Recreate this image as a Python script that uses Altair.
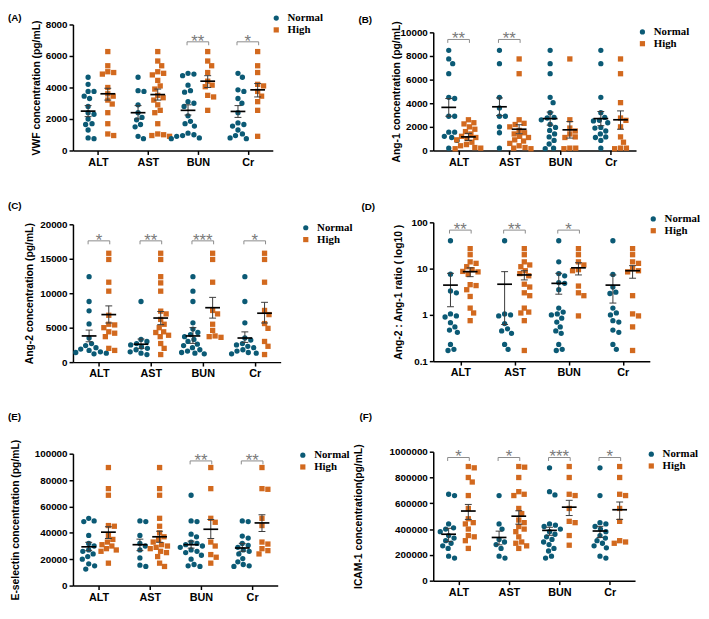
import numpy as np
import pandas as pd
import altair as alt

CATS = ["ALT", "AST", "BUN", "Cr"]
GROUPS = ["Normal", "High"]
TEAL = "#0b5a75"
ORANGE = "#d2691e"
SANS = "Liberation Sans"
SERIF = "Liberation Serif"

# ---------------- Panel A : VWF ----------------
A_NORMAL = [
    [4650, 4200, 3750, 3750, 3450, 3300, 2800, 2400, 2300, 2000, 1700, 1650, 1300, 800, 750],
    [4650, 3800, 3750, 2900, 2400, 2100, 1950, 1650, 1500, 900, 750],
    [4900, 4850, 4750, 4150, 3800, 3700, 3100, 3000, 2800, 2200, 1850, 1700, 1550, 1100, 1000, 950, 900, 800, 750],
    [4900, 4650, 3850, 3750, 3300, 3000, 2400, 1750, 1650, 1550, 1300, 1050, 950, 800, 750],
]
A_HIGH = [
    [6280, 5380, 5000, 4950, 4850, 4000, 3600, 3450, 3200, 2950, 2400, 1700, 1050, 950],
    [6280, 5680, 5380, 5000, 4900, 4800, 4450, 4100, 3900, 3500, 3350, 3200, 2900, 2550, 2400, 1700, 1050, 1000, 950, 900],
    [6280, 5680, 5380, 4950, 4400, 4150, 4050, 3500, 3400, 2550],
    [6280, 5380, 4950, 4200, 4100, 3750, 3450, 3100, 2550, 900],
]
A_MEAN_N = [2500, 2400, 2550, 2480]
A_LO_N = [2150, 2000, 2250, 2100]
A_HI_N = [2850, 2850, 2900, 2850]
A_MEAN_H = [3600, 3550, 4400, 3850]
A_LO_H = [3200, 3200, 4000, 3400]
A_HI_H = [3950, 3900, 4750, 4250]
A_SIG = ["", "", "**", "*"]
A_SIG_LEVEL = 6900

# ---------------- Panel B : Ang-1 ----------------
B_NORMAL = [
    [8480, 7750, 7350, 6500, 4500, 4400, 2900, 2900, 1550, 1550, 1200, 1100, 850, 200],
    [8480, 7350, 4500, 3600, 2900, 2900, 2000, 1500, 200],
    [8480, 7350, 6500, 4500, 4050, 3200, 2800, 2750, 2600, 2200, 1950, 1700, 1400, 1150, 850, 550, 200, 150],
    [8480, 7350, 4500, 3200, 2800, 2550, 2500, 2350, 1950, 1900, 1650, 1400, 1150, 1100, 850, 200],
]
B_HIGH = [
    [2600, 2350, 2250, 2000, 1800, 1600, 1400, 1200, 1100, 1000, 900, 700, 500, 400, 250, 200, 150],
    [7750, 6500, 2600, 2300, 2200, 2000, 1700, 1500, 1400, 1200, 1100, 900, 800, 600, 400, 250, 200, 150],
    [7750, 2600, 1900, 1650, 1400, 1150, 1100, 200, 200, 150],
    [7750, 6500, 4050, 2750, 2550, 2000, 1150, 700, 200, 200, 150],
]
B_MEAN_N = [3650, 3700, 2700, 2700]
B_LO_N = [2900, 2950, 2150, 2100]
B_HI_N = [4400, 4450, 3250, 3300]
B_MEAN_H = [1150, 1800, 1750, 2600]
B_LO_H = [850, 1420, 1050, 1800]
B_HI_H = [1450, 2180, 2450, 3350]
B_SIG = ["**", "**", "", ""]
B_SIG_LEVEL = 9400

# ---------------- Panel C : Ang-2 ----------------
C_NORMAL = [
    [12400, 8800, 7450, 5550, 3500, 2700, 2400, 2100, 1900, 1700, 1500, 1400, 1300, 1200],
    [8800, 3300, 3000, 2700, 2500, 2200, 2000, 1800, 1500, 1300, 1100],
    [12400, 10300, 8800, 5700, 4800, 4300, 4000, 3700, 3300, 3000, 2600, 2400, 2100, 1800, 1600, 1400, 1300, 1200],
    [12400, 8800, 5700, 3500, 3200, 2700, 2500, 2300, 2100, 1800, 1600, 1400, 1300, 1200],
]
C_HIGH = [
    [15800, 14900, 11600, 10300, 6800, 5500, 5400, 5000, 4400, 4200, 3700, 2000, 1700],
    [15800, 14900, 12400, 11500, 10300, 7400, 7000, 6200, 5500, 5000, 4400, 4300, 3900, 3700, 2700, 2000, 1100],
    [15800, 14900, 11600, 7500, 7000, 5500, 4600, 3800, 3700, 3600],
    [15800, 14900, 11600, 7500, 6900, 5600, 4900, 3000, 2300, 1100],
]
C_MEAN_N = [3800, 2600, 3800, 3500]
C_LO_N = [2950, 2000, 2720, 2860]
C_HI_N = [4650, 3350, 5010, 4390]
C_MEAN_H = [6900, 6400, 7900, 7100]
C_LO_H = [5680, 5440, 6390, 5680]
C_HI_H = [8160, 7350, 9400, 8680]
C_SIG = ["*", "**", "***", "*"]
C_SIG_LEVEL = 17600

# ---------------- Panel D : Ang-2 / Ang-1 ratio ----------------
D_NORMAL = [
    [40, 7.6, 3.3, 3.0, 1.05, 0.95, 0.9, 0.68, 0.55, 0.47, 0.42, 0.23, 0.18, 0.17],
    [40, 1.05, 1.0, 0.95, 0.65, 0.5, 0.45, 0.4, 0.23, 0.18],
    [40, 14, 7.8, 7.0, 5.0, 4.8, 3.5, 1.4, 1.15, 1.05, 1.0, 0.85, 0.7, 0.55, 0.45, 0.4, 0.23, 0.18, 0.17],
    [40, 7.5, 4.0, 3.1, 2.9, 1.4, 1.1, 1.0, 0.75, 0.7, 0.47, 0.42, 0.23, 0.18],
]
D_HIGH = [
    [27, 20, 14, 13, 11, 9.5, 8.7, 8.5, 7.5, 4.5, 4.3, 3.5, 2.5, 1.4, 1.1, 0.75],
    [27, 20, 14, 12, 11, 9, 7.8, 7, 4.6, 4.0, 3.0, 2.6, 1.4, 1.15, 1.1, 0.75, 0.17],
    [27, 20, 14, 12, 9.5, 9.0, 4.2, 3.0, 2.6, 0.95],
    [27, 20, 14, 13, 10, 9, 8.5, 2.6, 1.05, 0.95, 0.55, 0.17],
]
D_MEAN_N = [4.4, 4.6, 4.8, 4.4]
D_LO_N = [1.5, 0.62, 2.8, 1.8]
D_HI_N = [7.9, 8.6, 7.9, 7.3]
D_MEAN_H = [8.6, 7.3, 10.4, 9.0]
D_LO_H = [6.7, 5.7, 7.3, 6.2]
D_HI_H = [10.4, 9.0, 13.4, 11.6]
D_SIG = ["**", "**", "*", ""]
D_SIG_LEVEL = 68

# ---------------- Panel E : E-selectin ----------------
E_NORMAL = [
    [51000, 49000, 48500, 38000, 32000, 30000, 27000, 26000, 24000, 22000, 20000, 16500, 15000, 12500],
    [49000, 48500, 38000, 32000, 30000, 27000, 21000, 15500, 14500],
    [68500, 49000, 48500, 39000, 37000, 33000, 32000, 31000, 30000, 29000, 27000, 26000, 25000, 23000, 20000, 16000, 15000, 14500],
    [49000, 48500, 37500, 36000, 32000, 30500, 29000, 27000, 26000, 24000, 20500, 18000, 16000, 15000, 14500],
]
E_HIGH = [
    [89500, 73500, 68500, 45500, 45000, 38000, 35000, 33000, 31000, 30000, 28000, 27000, 26000, 17000],
    [89500, 73500, 68500, 51000, 45000, 40000, 37000, 35000, 33000, 31000, 30000, 29000, 28000, 26000, 25000, 22000, 17000, 14500],
    [89500, 73500, 51000, 48000, 33000, 30000, 23500, 21500, 17000],
    [89500, 73500, 73000, 51000, 45500, 33000, 31500, 28000, 26500, 24000],
]
E_MEAN_N = [29400, 31000, 31000, 28500]
E_LO_N = [26500, 26500, 28400, 26000]
E_HI_N = [32800, 35200, 33700, 32000]
E_MEAN_H = [40500, 37000, 42700, 47500]
E_LO_H = [35700, 32800, 35700, 41000]
E_HI_H = [44600, 41200, 50100, 53700]
E_SIG = ["", "", "**", "**"]
E_SIG_LEVEL = 94500

# ---------------- Panel F : ICAM-1 ----------------
F_NORMAL = [
    [670000, 660000, 440000, 410000, 400000, 380000, 350000, 330000, 310000, 290000, 270000, 250000, 190000, 175000],
    [660000, 440000, 400000, 320000, 300000, 280000, 250000, 190000, 175000],
    [875000, 690000, 665000, 440000, 430000, 420000, 400000, 380000, 360000, 340000, 320000, 300000, 280000, 250000, 230000, 190000, 175000],
    [875000, 660000, 450000, 440000, 420000, 400000, 380000, 350000, 330000, 310000, 290000, 270000, 255000, 190000, 175000],
]
F_HIGH = [
    [885000, 875000, 800000, 765000, 660000, 560000, 480000, 450000, 440000, 400000, 350000, 340000, 310000, 250000],
    [885000, 880000, 800000, 690000, 670000, 660000, 560000, 520000, 470000, 450000, 420000, 400000, 380000, 340000, 300000, 290000, 270000, 250000],
    [885000, 800000, 670000, 660000, 560000, 460000, 450000, 350000, 275000],
    [885000, 800000, 670000, 660000, 560000, 460000, 310000, 300000, 290000],
]
F_MEAN_N = [360000, 335000, 390000, 385000]
F_LO_N = [303000, 278000, 352000, 335000]
F_HI_N = [406000, 384000, 414000, 421000]
F_MEAN_H = [540000, 500000, 570000, 550000]
F_LO_H = [475000, 438000, 505000, 475000]
F_HI_H = [591000, 542000, 623000, 610000]
F_SIG = ["*", "*", "***", "*"]
F_SIG_LEVEL = 955000

PANELS = {
    "A": dict(title="VWF concentration (pg/mL)", domain=[0, 8000], ticks=[0, 2000, 4000, 6000, 8000], fmt="d",
              normal=A_NORMAL, high=A_HIGH, mn=A_MEAN_N, ln=A_LO_N, hn=A_HI_N, mh=A_MEAN_H, lh=A_LO_H, hh=A_HI_H,
              sig=A_SIG, level=A_SIG_LEVEL),
    "B": dict(title="Ang-1 concentration (pg/mL)", domain=[0, 10000], ticks=[0, 2000, 4000, 6000, 8000, 10000], fmt="d",
              normal=B_NORMAL, high=B_HIGH, mn=B_MEAN_N, ln=B_LO_N, hn=B_HI_N, mh=B_MEAN_H, lh=B_LO_H, hh=B_HI_H,
              sig=B_SIG, level=B_SIG_LEVEL),
    "C": dict(title="Ang-2 concentration (pg/mL)", domain=[0, 20000], ticks=[0, 5000, 10000, 15000, 20000], fmt="d",
              normal=C_NORMAL, high=C_HIGH, mn=C_MEAN_N, ln=C_LO_N, hn=C_HI_N, mh=C_MEAN_H, lh=C_LO_H, hh=C_HI_H,
              sig=C_SIG, level=C_SIG_LEVEL),
    "D": dict(title="Ang-2 : Ang-1 ratio ( log10 )", domain=[0.1, 100], ticks=[0.1, 1, 10, 100], fmt="~g", log=True,
              normal=D_NORMAL, high=D_HIGH, mn=D_MEAN_N, ln=D_LO_N, hn=D_HI_N, mh=D_MEAN_H, lh=D_LO_H, hh=D_HI_H,
              sig=D_SIG, level=D_SIG_LEVEL),
    "E": dict(title="E-selectin concentration (pg/mL)", domain=[0, 100000],
              ticks=[0, 20000, 40000, 60000, 80000, 100000], fmt="d",
              normal=E_NORMAL, high=E_HIGH, mn=E_MEAN_N, ln=E_LO_N, hn=E_HI_N, mh=E_MEAN_H, lh=E_LO_H, hh=E_HI_H,
              sig=E_SIG, level=E_SIG_LEVEL),
    "F": dict(title="ICAM-1 concentration(pg/mL)", domain=[0, 1000000],
              ticks=[0, 200000, 400000, 600000, 800000, 1000000], fmt="d",
              normal=F_NORMAL, high=F_HIGH, mn=F_MEAN_N, ln=F_LO_N, hn=F_HI_N, mh=F_MEAN_H, lh=F_LO_H, hh=F_HI_H,
              sig=F_SIG, level=F_SIG_LEVEL),
}

# layout (pixels): plot size, y-title centre, panel-letter position, legend position
LAYOUT = {
    "A": dict(w=203, h=128, tcx=-38, lab=(-66, -4), leg=(201, -12)),
    "B": dict(w=206, h=120, tcx=-38, lab=(-76, -10), leg=(207, -6)),
    "C": dict(w=211, h=140, tcx=-45, lab=(-66, -16), leg=(231, -2)),
    "D": dict(w=220, h=141, tcx=-36, lab=(-73, -13), leg=(218, -9)),
    "E": dict(w=208, h=134, tcx=-59, lab=(-66, -34), leg=(228, -4)),
    "F": dict(w=205, h=131, tcx=-76, lab=(-75, -32), leg=(216, -3)),
}
SPACE_COL1 = [75, 93]   # gaps A->C, C->E
SPACE_COL2 = [8, 73, 92]  # top offset of B, gaps B->D, D->F

GOFF = 10.0    # px offset of each group from category centre
MHALF = 7.5    # half length of mean line
CHALF = 3.5    # half length of error caps
BHALF = 11.0   # half width of significance bracket
DOT = 6.0      # symbol spacing used for the swarm layout


def swarm(ys):
    order = np.argsort(ys)
    placed = []
    offs = np.zeros(len(ys))
    cands = [0.0]
    for k in range(1, 80):
        cands += [k * 0.5, -k * 0.5]
    for idx in order:
        y = ys[idx]
        chosen = cands[-1]
        for c in cands:
            if all((c - px) ** 2 + (y - py) ** 2 >= DOT * DOT for px, py in placed):
                chosen = c
                break
        placed.append((chosen, y))
        offs[idx] = chosen
    return offs


def make_panel(key):
    p, lay = PANELS[key], LAYOUT[key]
    w, h = lay["w"], lay["h"]
    d0, d1 = p["domain"]
    log = p.get("log", False)
    if log:
        t0, t1 = np.log10(d0), np.log10(d1)
        to_px = lambda v: h * (1 - (np.log10(v) - t0) / (t1 - t0))
        from_px = lambda y: 10 ** (t0 + (1 - y / h) * (t1 - t0))
    else:
        to_px = lambda v: h * (1 - (v - d0) / (d1 - d0))
        from_px = lambda y: d0 + (1 - y / h) * (d1 - d0)
    unit = w / 4.0

    def xd(i, px):
        return i + px / unit

    pts, means, errs, brs, stars = [], [], [], [], []
    for i in range(4):
        for g, vals, off, m, lo, hi in (
            ("Normal", p["normal"][i], -GOFF, p["mn"][i], p["ln"][i], p["hn"][i]),
            ("High", p["high"][i], GOFF, p["mh"][i], p["lh"][i], p["hh"][i]),
        ):
            ys = np.array([to_px(v) for v in vals])
            offs = swarm(ys)
            for v, o in zip(vals, offs):
                pts.append({"x": xd(i, off + o), "y": v, "grp": g})
            means.append({"x": xd(i, off - MHALF), "x2": xd(i, off + MHALF), "y": m, "y2": m})
            errs.append({"x": xd(i, off), "x2": xd(i, off), "y": lo, "y2": hi})
            errs.append({"x": xd(i, off - CHALF), "x2": xd(i, off + CHALF), "y": lo, "y2": lo})
            errs.append({"x": xd(i, off - CHALF), "x2": xd(i, off + CHALF), "y": hi, "y2": hi})
        s = p["sig"][i]
        if s:
            lvl = p["level"]
            low = from_px(to_px(lvl) + 3.5)
            xl, xr = xd(i, -BHALF), xd(i, BHALF)
            brs.append({"x": xl, "x2": xr, "y": lvl, "y2": lvl})
            brs.append({"x": xl, "x2": xl, "y": lvl, "y2": low})
            brs.append({"x": xr, "x2": xr, "y": lvl, "y2": low})
            stars.append({"x": xd(i, 0), "y": lvl, "t": s})

    xscale = alt.Scale(domain=[-0.5, 3.5], nice=False, zero=False)
    yscale = alt.Scale(type="log", domain=[d0, d1], nice=False) if log else \
        alt.Scale(domain=[d0, d1], nice=False, zero=False)
    xaxis = alt.Axis(values=[0, 1, 2, 3], title=None, grid=False,
                     labelExpr="%s[datum.value]" % str(CATS),
                     labelFont=SANS, labelFontSize=11, labelFontWeight="bold", labelColor="black",
                     labelPadding=2, domainColor="black", domainWidth=1.5,
                     tickColor="black", tickWidth=1.5, tickSize=4)
    yaxis = alt.Axis(values=p["ticks"], format=p["fmt"], title=p["title"], grid=False,
                     titleX=lay["tcx"] + 5.5, titleY=h / 2, titleAngle=270, titleAlign="center",
                     titleBaseline="bottom",
                     titleFont=SANS, titleFontSize=10.5, titleFontWeight="bold", titleColor="black",
                     labelFont=SANS, labelFontSize=10, labelFontWeight="bold", labelColor="black",
                     labelPadding=2, domainColor="black", domainWidth=1.5,
                     tickColor="black", tickWidth=1.5, tickSize=4)
    X = alt.X("x:Q", scale=xscale, axis=xaxis)
    Y = alt.Y("y:Q", scale=yscale, axis=yaxis)
    leg = alt.Legend(title=None, orient="none", legendX=lay["leg"][0], legendY=lay["leg"][1],
                     labelFont=SERIF, labelFontSize=11, labelFontWeight="bold", labelColor="black",
                     symbolSize=28, symbolStrokeWidth=0, rowPadding=0, labelOffset=6, padding=0)

    l_pts = alt.Chart(pd.DataFrame(pts)).mark_point(filled=True, opacity=1, size=29, strokeWidth=0).encode(
        x=X, y=Y,
        color=alt.Color("grp:N", scale=alt.Scale(domain=GROUPS, range=[TEAL, ORANGE]), legend=leg),
        shape=alt.Shape("grp:N", scale=alt.Scale(domain=GROUPS, range=["circle", "square"]), legend=leg),
    )
    l_err = alt.Chart(pd.DataFrame(errs)).mark_rule(color="#3a3a3a", strokeWidth=1).encode(
        x=X, x2="x2:Q", y=Y, y2="y2:Q")
    l_mean = alt.Chart(pd.DataFrame(means)).mark_rule(color="black", strokeWidth=1.7).encode(
        x=X, x2="x2:Q", y=Y, y2="y2:Q")
    l_br = alt.Chart(pd.DataFrame(brs)).mark_rule(color="#8a8a8a", strokeWidth=1).encode(
        x=X, x2="x2:Q", y=Y, y2="y2:Q")
    l_star = alt.Chart(pd.DataFrame(stars)).mark_text(
        font=SANS, fontSize=17, color="#7a7a7a", baseline="alphabetic", dy=5).encode(
        x=X, y=Y, text="t:N")
    l_lab = alt.Chart(pd.DataFrame({"t": ["(%s)" % key]})).mark_text(
        font=SANS, fontSize=10, fontWeight="bold", color="black", align="left", baseline="alphabetic").encode(
        x=alt.value(lay["lab"][0]), y=alt.value(lay["lab"][1]), text="t:N")
    return alt.layer(l_pts, l_err, l_mean, l_br, l_star, l_lab).properties(width=w, height=h)


def spacer(hgt):
    return alt.Chart(pd.DataFrame({"v": [0]})).mark_point(opacity=0, size=1).encode(
        x=alt.value(0), y=alt.value(0)).properties(width=1, height=hgt)


def indep(c):
    return c.resolve_scale(color="independent", shape="independent").resolve_legend(
        color="independent", shape="independent")


col1 = indep(alt.vconcat(make_panel("A"), spacer(SPACE_COL1[0]), make_panel("C"), spacer(SPACE_COL1[1]),
                         make_panel("E"), spacing=0, bounds="flush"))
col2 = indep(alt.vconcat(spacer(SPACE_COL2[0]), make_panel("B"), spacer(SPACE_COL2[1]), make_panel("D"),
                         spacer(SPACE_COL2[2]), make_panel("F"), spacing=0, bounds="flush"))
chart = indep(alt.hconcat(col1, col2, spacing=0)).properties(padding=0).configure_view(stroke=None)

chart.save("out.html", embed_options={"renderer": "svg", "actions": False})
